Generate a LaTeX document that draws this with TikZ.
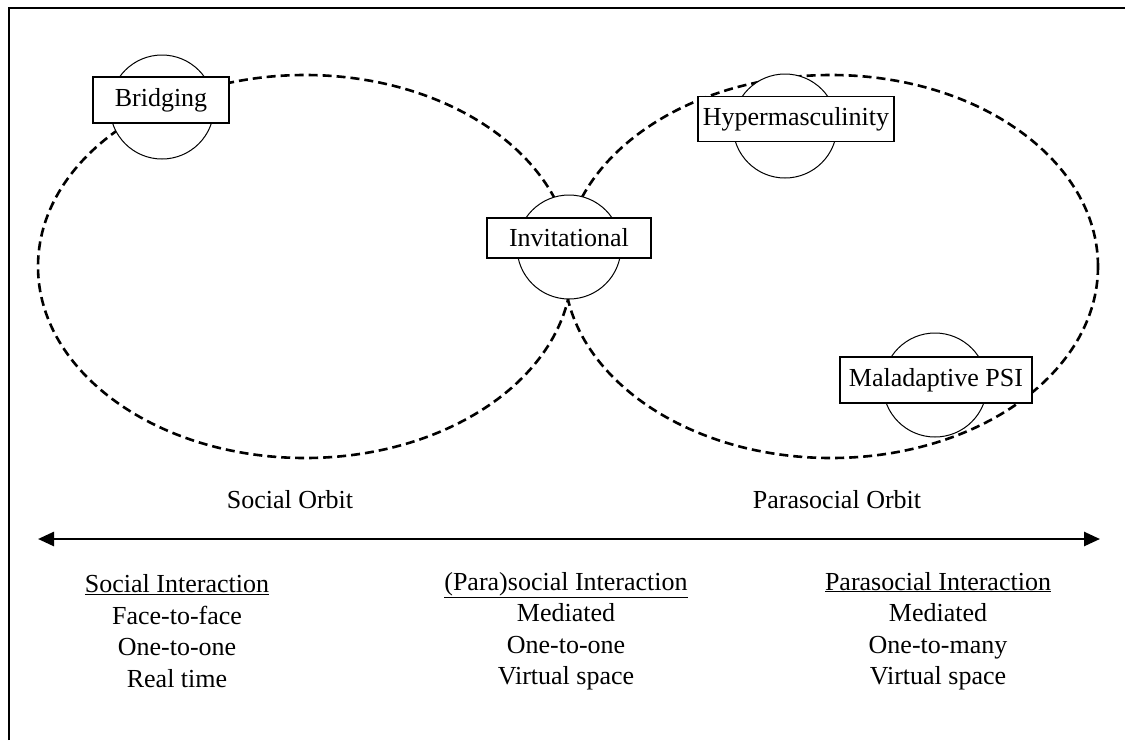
\documentclass[tikz,border=0pt]{standalone}
\usepackage{fontspec}
\setmainfont{Liberation Serif}
\usetikzlibrary{shapes.geometric,arrows.meta}
\begin{document}
\begin{tikzpicture}[x=1pt,y=-1pt,
  orbit/.style={ellipse, draw, dash pattern=on 9pt off 5pt, line width=2.6pt,
    minimum width=534pt, minimum height=383pt, inner sep=0pt},
  ring/.style={circle, draw, line width=1pt, fill=white, minimum size=104pt, inner sep=0pt},
  tag/.style={draw, line width=1.3pt, fill=white, font=\fontsize{26}{31}\selectfont,
    minimum height=44pt, inner sep=0pt},
  lbl/.style={font=\fontsize{26}{31.5}\selectfont, align=center, inner sep=0pt},
  axis/.style={line width=2.6pt, {Triangle[length=16pt,width=14pt]}-{Triangle[length=16pt,width=14pt]}}]
\useasboundingbox (0,0) rectangle (1125,740);
\draw[line width=1.2pt] (9,740) -- (9,8) -- (1125,8);
% orbits
\node[orbit] (socorb) at (305,266.5) {};
\node[orbit] (paraorb) at (831,266.5) {};
% rings
\node[ring] (rbridge) at (162,107) {};
\node[ring] (rinvit) at (569,247) {};
\node[ring] (rhyper) at (785,126) {};
\node[ring] (rmal) at (935,385) {};
% tags
\node[tag, minimum width=136pt, minimum height=46pt] (bridge) at (161,100) {Bridging};
\node[tag, minimum width=164pt, minimum height=40pt] (invit) at (569,238) {Invitational};
\node[tag, minimum width=196pt, minimum height=45pt] (hyper) at (796,119) {Hypermasculinity};
\node[tag, minimum width=192pt, minimum height=46pt] (mal) at (936,380) {Maladaptive PSI};
% orbit labels
\node[lbl] (socl) at (290,500) {Social Orbit};
\node[lbl] (parl) at (837,500) {Parasocial Orbit};
% axis
\coordinate (al) at (38,539);
\coordinate (ar) at (1100,539);
\draw[axis] (al) -- (ar);
% columns
\node[lbl] (c1) at (177,631) {\underline{Social Interaction}\\Face-to-face\\One-to-one\\Real time};
\node[lbl] (c2) at (566,631) {\underline{(Para)social Interaction}\\Mediated\\One-to-one\\Virtual space};
\node[lbl] (c3) at (938,631) {\underline{Parasocial Interaction}\\Mediated\\One-to-many\\Virtual space};
\end{tikzpicture}
\end{document}
